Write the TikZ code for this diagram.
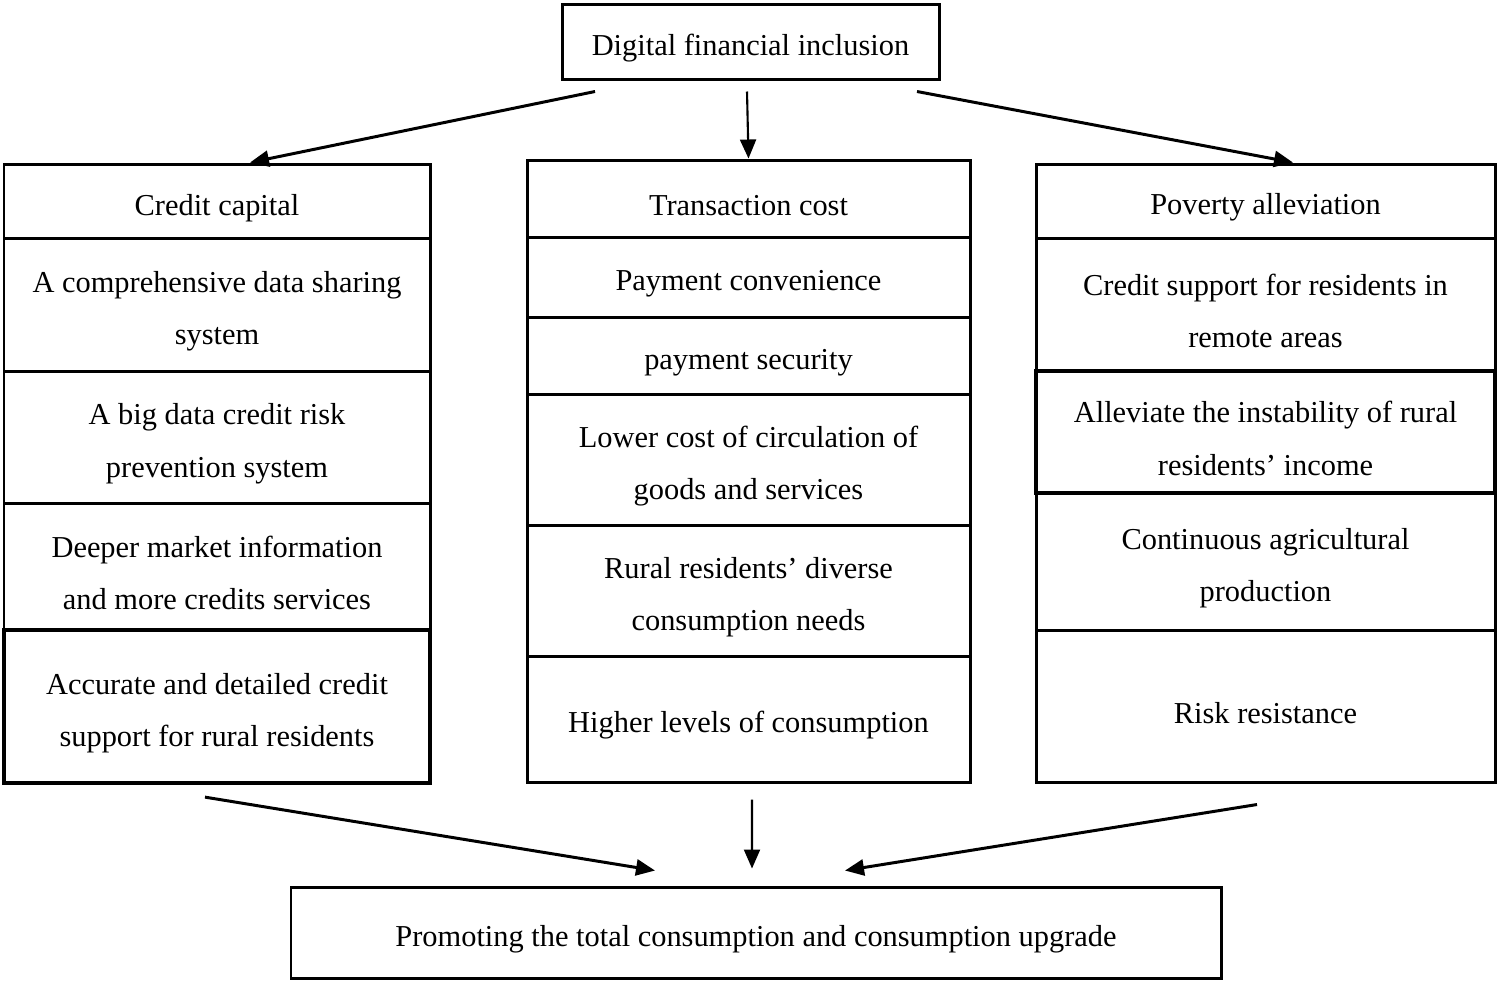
\documentclass[tikz,border=0pt]{standalone}
\usepackage{fontspec}
\setmainfont{Liberation Serif}
\usetikzlibrary{arrows.meta}

\begin{document}
\begin{tikzpicture}[
      caja/.style={draw, line width=0.85pt, align=flush center, inner sep=0pt,
                   font=\fontsize{8.65pt}{15pt}\selectfont,
                   execute at begin node={\rule{0pt}{9.8pt}}},
      izq/.style={caja, text width=4.26cm},
      cen/.style={caja, text width=4.43cm},
      der/.style={caja, text width=4.59cm},
      flecha/.style={line width=0.85pt, -{Triangle[length=0.19cm,width=0.16cm]}},
      fina/.style={flecha, line width=0.6pt}
    ]
    \useasboundingbox (0,0) rectangle (14.99,-9.83);

    \node[caja, text width=3.77cm, minimum height=0.75cm] (dfi) at (7.505,-0.415) {Digital financial inclusion};

    % columna izquierda
    \node[izq, minimum height=0.74cm] (cc) at (2.17,-2.01)   {Credit capital};
    \node[izq, minimum height=1.33cm] (l1) at (2.17,-3.045)  {A comprehensive data sharing\\system};
    \node[izq, minimum height=1.32cm] (l2) at (2.17,-4.37)   {A big data credit risk\\prevention system};
    \node[izq, minimum height=1.27cm] (l3) at (2.17,-5.665)  {Deeper market information\\and more credits services};
    \node[izq, minimum height=1.53cm, line width=1.2pt] (l4) at (2.17,-7.065) {Accurate and detailed credit\\support for rural residents};

    % columna central
    \node[cen, minimum height=0.77cm] (tc) at (7.485,-1.985) {Transaction cost};
    \node[cen, minimum height=0.80cm] (m1) at (7.485,-2.77)  {Payment convenience};
    \node[cen, minimum height=0.77cm] (m2) at (7.485,-3.555) {payment security};
    \node[cen, minimum height=1.31cm] (m3) at (7.485,-4.595) {Lower cost of circulation of\\goods and services};
    \node[cen, minimum height=1.31cm] (m4) at (7.485,-5.905) {Rural residents’ diverse\\consumption needs};
    \node[cen, minimum height=1.26cm] (m5) at (7.485,-7.19)  {Higher levels of consumption};

    % columna derecha
    \node[der, minimum height=0.74cm] (pa) at (12.655,-2.01)  {Poverty alleviation};
    \node[der, minimum height=1.33cm] (r1) at (12.655,-3.045) {Credit support for residents in\\remote areas};
    \node[der, minimum height=1.22cm, line width=1.2pt] (r2) at (12.655,-4.32) {Alleviate the instability of rural\\residents’ income};
    \node[der, minimum height=1.37cm] (r3) at (12.655,-5.615) {Continuous agricultural\\production};
    \node[der, minimum height=1.52cm] (r4) at (12.655,-7.06)  {Risk resistance};

    \node[caja, text width=9.30cm, minimum height=0.91cm] (pt) at (7.56,-9.325) {Promoting the total consumption and consumption upgrade};

    \draw[flecha] ([xshift=-1.555cm,yshift=-0.11cm]dfi.south) -- ([xshift=0.33cm]cc.north);
    \draw[fina] ([xshift=-0.035cm,yshift=-0.11cm]dfi.south) -- (tc.north);
    \draw[flecha] ([xshift=1.665cm,yshift=-0.11cm]dfi.south) -- ([xshift=0.275cm]pa.north);

    \draw[flecha] ([xshift=-0.12cm,yshift=-0.12cm]l4.south) -- ([xshift=-1.01cm,yshift=0.15cm]pt.north);
    \draw[fina] ([xshift=0.035cm,yshift=-0.16cm]m5.south) -- ([xshift=-0.04cm,yshift=0.17cm]pt.north);
    \draw[flecha] ([xshift=-0.085cm,yshift=-0.21cm]r4.south) -- ([xshift=0.89cm,yshift=0.15cm]pt.north);
  \end{tikzpicture}
\end{document}
